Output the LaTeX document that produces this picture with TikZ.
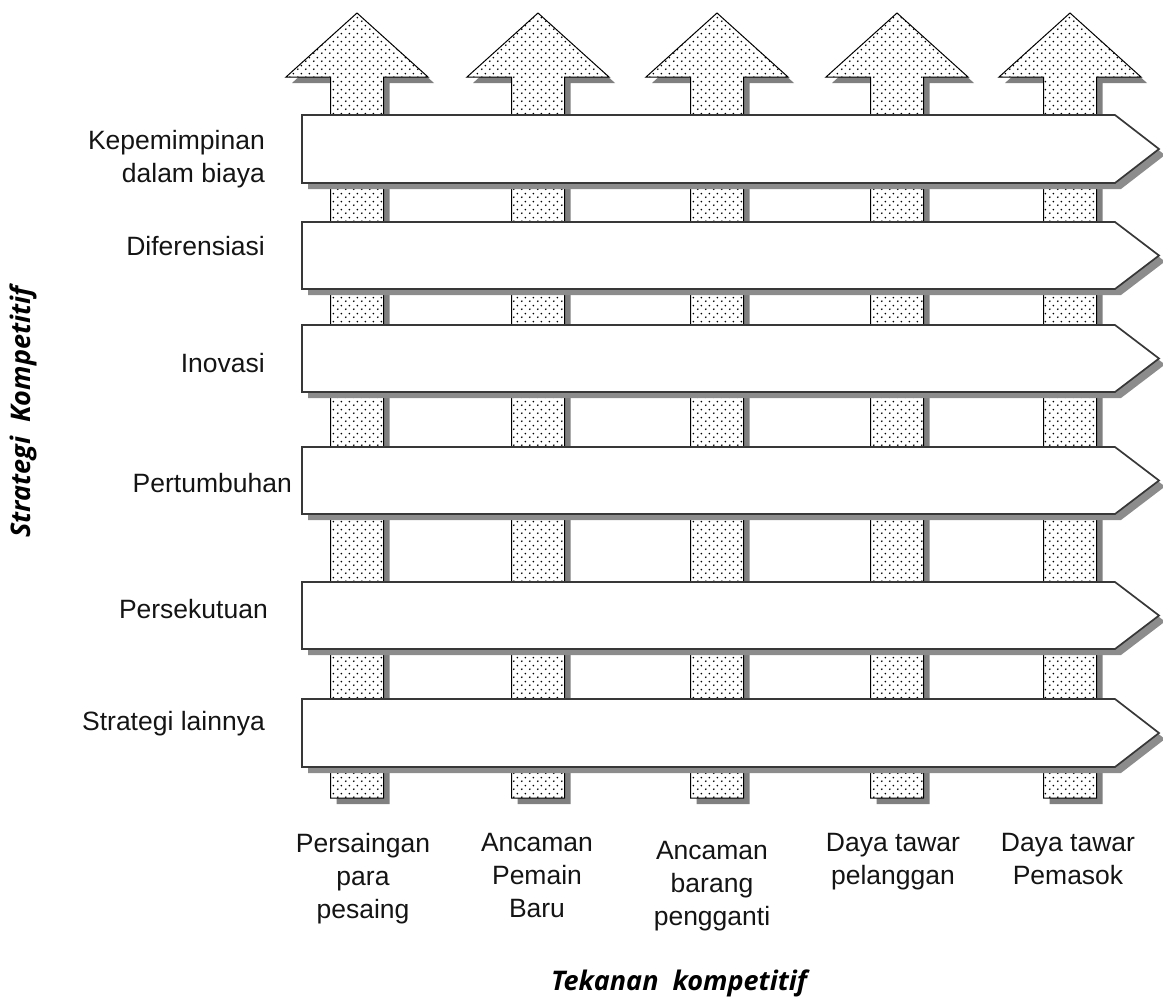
\documentclass[tikz,border=0pt]{standalone}
\usepackage{fontspec}
\setmainfont{Liberation Sans}
\newfontfamily\titlefont{Open Sans}
\usetikzlibrary{patterns.meta}
\tikzdeclarepattern{
  name=mydots,
  type=uncolored,
  bounding box={(0pt,0pt) and (8pt,8pt)},
  tile size={(8pt,8pt)},
  code={
    \pgfpathcircle{\pgfqpoint{2pt}{2pt}}{1.05pt}
    \pgfpathcircle{\pgfqpoint{6pt}{6pt}}{1.05pt}
    \pgfusepath{fill}
  }
}
\tikzset{
  lbl/.style={inner sep=0pt, font=\fontsize{26.5}{33}\selectfont, text=black!92},
  upbody/.style={preaction={fill=white}, pattern=mydots, pattern color=black, draw=black, line width=1pt, line join=miter},
  upshadow/.style={fill=black!50},
  hbody/.style={fill=white, draw=black!78, line width=1.7pt, line join=miter},
  hshadow/.style={fill=black!45},
  axtitle/.style={inner sep=0pt, font=\titlefont\bfseries\itshape\fontsize{27}{30}\selectfont}
}
\begin{document}
\begin{tikzpicture}[x=1pt,y=-1pt]
\useasboundingbox (0,0) rectangle (1163,1007);
% vertical (upward) arrows: competitive pressures
\foreach \c in {357,538,717,897,1070} {
  \fill[upshadow, shift={(6,6)}] (\c-26.5,798) -- (\c-26.5,77) -- (\c-71,77) -- (\c,13) -- (\c+71,77) -- (\c+26.5,77) -- (\c+26.5,798) -- cycle;
}
\foreach \c in {357,538,717,897,1070} {
  \path[upbody] (\c-26.5,798) -- (\c-26.5,77) -- (\c-71,77) -- (\c,13) -- (\c+71,77) -- (\c+26.5,77) -- (\c+26.5,798) -- cycle;
}
% horizontal arrows: competitive strategies
\foreach \t/\b in {115/183, 222/289, 325/392, 447/514, 582/649, 699/767} {
  \fill[hshadow, shift={(6,6)}] (302,\t) -- (1115,\t) -- (1159,{(\t+\b)/2}) -- (1115,\b) -- (302,\b) -- cycle;
  \path[hbody] (302,\t) -- (1115,\t) -- (1159,{(\t+\b)/2}) -- (1115,\b) -- (302,\b) -- cycle;
}
% strategy labels
\node[lbl, anchor=north east, align=right] (l1) at (265,130) {Kepemimpinan\\dalam biaya};
\node[lbl, anchor=base east] (l2) at (265,255) {Diferensiasi};
\node[lbl, anchor=base east] (l3) at (265,372) {Inovasi};
\node[lbl, anchor=base east] (l4) at (292,492) {Pertumbuhan};
\node[lbl, anchor=base east] (l5) at (268,618) {Persekutuan};
\node[lbl, anchor=base east] (l6) at (265,730) {Strategi lainnya};
% pressure labels
\node[lbl, anchor=north, align=center] (b1) at (363,833) {Persaingan\\para\\pesaing};
\node[lbl, anchor=north, align=center] (b2) at (537,833) {Ancaman\\Pemain\\Baru};
\node[lbl, anchor=north, align=center] (b3) at (712,841) {Ancaman\\barang\\pengganti};
\node[lbl, anchor=north, align=center] (b4) at (893,833) {Daya tawar\\pelanggan};
\node[lbl, anchor=north, align=center] (b5) at (1068,833) {Daya tawar\\Pemasok};
% axis titles
\node[axtitle, rotate=90] (ty) at (23,412) {Strategi\ \ Kompetitif};
\node[axtitle] (tx) at (679,983) {Tekanan\ \ kompetitif};
\end{tikzpicture}
\end{document}
